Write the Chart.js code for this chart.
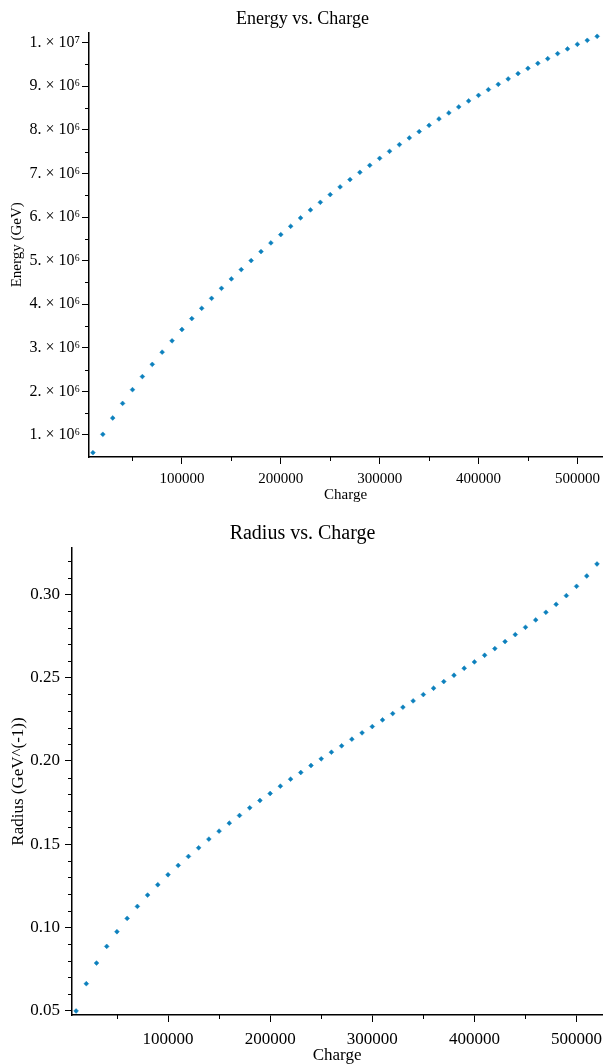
<!DOCTYPE html>
<html>
<head>
<meta charset="utf-8">
<script src="https://cdn.jsdelivr.net/npm/chart.js@4/dist/chart.umd.min.js"></script>
<style>
  html, body { margin: 0; padding: 0; background: #fff; }
  .box { position: absolute; left: 0; width: 605px; }
  #energyBox { top: 0; height: 505px; }
  #radiusBox { top: 510px; height: 554px; }
</style>
</head>
<body>
<div class="box" id="energyBox"><canvas id="energyChart"></canvas></div>
<div class="box" id="radiusBox"><canvas id="radiusChart"></canvas></div>
<script>
const charge = [
  10000, 20000, 30000, 40000, 50000, 60000, 70000, 80000, 90000, 100000,
  110000, 120000, 130000, 140000, 150000, 160000, 170000, 180000, 190000, 200000,
  210000, 220000, 230000, 240000, 250000, 260000, 270000, 280000, 290000, 300000,
  310000, 320000, 330000, 340000, 350000, 360000, 370000, 380000, 390000, 400000,
  410000, 420000, 430000, 440000, 450000, 460000, 470000, 480000, 490000, 500000,
  510000, 520000
];
// GeV
const energy = [
  594000, 1016000, 1390000, 1725000, 2040000, 2340000, 2620000, 2900000, 3160000, 3420000,
  3670000, 3906000, 4135000, 4365000, 4580000, 4794000, 5000000, 5206000, 5406000, 5596000,
  5787000, 5979000, 6163000, 6337000, 6514000, 6690000, 6858000, 7025000, 7186000, 7346000,
  7507000, 7661000, 7814000, 7959000, 8103000, 8250000, 8388000, 8525000, 8663000, 8791000,
  8922000, 9044000, 9167000, 9289000, 9411000, 9525000, 9633000, 9748000, 9856000, 9961000,
  10053000, 10145000
];
// GeV^(-1)
const radius = [
  0.0498, 0.0662, 0.0786, 0.0886, 0.0974, 0.1054, 0.1126, 0.1194, 0.1256, 0.1316,
  0.1372, 0.1426, 0.1478, 0.1530, 0.1578, 0.1626, 0.1672, 0.1718, 0.1762, 0.1804,
  0.1848, 0.1890, 0.1930, 0.1972, 0.2012, 0.2052, 0.2090, 0.2130, 0.2168, 0.2206,
  0.2246, 0.2284, 0.2322, 0.2360, 0.2398, 0.2436, 0.2476, 0.2514, 0.2556, 0.2594,
  0.2634, 0.2674, 0.2716, 0.2758, 0.2802, 0.2846, 0.2892, 0.2940, 0.2992, 0.3048,
  0.3110, 0.3182
];

const chargeTicks = [100000, 200000, 300000, 400000, 500000];
const chargeMinor = [50000, 150000, 250000, 350000, 450000];
const energyTicks = [1e6, 2e6, 3e6, 4e6, 5e6, 6e6, 7e6, 8e6, 9e6, 1e7];
const energyTickLabels = ['1. × 10⁶', '2. × 10⁶', '3. × 10⁶', '4. × 10⁶', '5. × 10⁶',
  '6. × 10⁶', '7. × 10⁶', '8. × 10⁶', '9. × 10⁶', '1. × 10⁷'];
const energyMinor = [1.5e6, 2.5e6, 3.5e6, 4.5e6, 5.5e6, 6.5e6, 7.5e6, 8.5e6, 9.5e6];
const radiusTicks = [0.05, 0.10, 0.15, 0.20, 0.25, 0.30];
const radiusTickLabels = ['0.05', '0.10', '0.15', '0.20', '0.25', '0.30'];
const radiusMinor = [0.06, 0.07, 0.08, 0.09, 0.11, 0.12, 0.13, 0.14, 0.16, 0.17, 0.18, 0.19,
  0.21, 0.22, 0.23, 0.24, 0.26, 0.27, 0.28, 0.29, 0.31, 0.32];

const SERIF = "'Liberation Serif', 'Times New Roman', serif";
const POINT = '#0c80bd';

// short outer ticks between the labelled ones
const minorTicks = {
  id: 'minorTicks',
  afterDraw(chart, args, opts) {
    const { ctx, chartArea: a, scales: { x, y } } = chart;
    ctx.save();
    ctx.strokeStyle = '#000';
    ctx.lineWidth = 1;
    ctx.beginPath();
    (opts.x || []).forEach(v => {
      const px = Math.round(x.getPixelForValue(v)) + 0.5;
      ctx.moveTo(px, a.bottom); ctx.lineTo(px, a.bottom + opts.len);
    });
    (opts.y || []).forEach(v => {
      const py = Math.round(y.getPixelForValue(v)) + 0.5;
      ctx.moveTo(a.left, py); ctx.lineTo(a.left - opts.len, py);
    });
    ctx.stroke();
    ctx.restore();
  }
};

function makeChart(id, s) {
  const ctx = document.getElementById(id).getContext('2d');
  const axis = { color: '#000', width: 1.5 };
  const grid = { drawOnChartArea: false, drawTicks: true, tickLength: 7, color: '#000', lineWidth: 1 };
  return new Chart(ctx, {
    type: 'scatter',
    data: {
      datasets: [{
        data: charge.map((c, i) => ({ x: c, y: s.values[i] })),
        pointStyle: 'rectRot', pointRadius: 2.4, pointHoverRadius: 2.4,
        backgroundColor: POINT, borderColor: POINT, borderWidth: 0.5, clip: false
      }]
    },
    options: {
      responsive: true,
      maintainAspectRatio: false,
      animation: false,
      layout: { padding: 0 },
      plugins: {
        legend: { display: false },
        tooltip: { enabled: false },
        title: {
          display: true, text: s.title, color: '#000',
          font: { family: SERIF, size: s.titleSize, weight: 'normal', lineHeight: 1.2 },
          padding: s.titlePad
        },
        minorTicks: { x: chargeMinor, y: s.minor, len: 4 }
      },
      scales: {
        x: {
          type: 'linear', min: 6000, max: 525000,
          border: axis, grid,
          afterBuildTicks: sc => { sc.ticks = chargeTicks.map(v => ({ value: v })); },
          afterFit: sc => { sc.height = s.xHeight; sc.paddingLeft = 0; sc.paddingRight = 0; },
          ticks: { color: '#000', padding: s.xTickPad, maxRotation: 0, font: { family: SERIF, size: s.tickSize },
            callback: v => String(v) },
          title: { display: true, text: 'Charge', color: '#000', padding: { top: 0, bottom: s.xTitlePad },
            font: { family: SERIF, size: s.axisSize, lineHeight: 1 } }
        },
        y: {
          type: 'linear', min: s.min, max: s.max,
          border: axis, grid,
          afterBuildTicks: sc => { sc.ticks = s.ticks.map(v => ({ value: v })); },
          afterFit: sc => { sc.width = s.yWidth; sc.paddingTop = 0; sc.paddingBottom = 0; },
          ticks: { color: '#000', padding: s.yTickPad, font: { family: SERIF, size: s.yTickSize },
            callback: (v, i) => s.labels[i] },
          title: { display: true, text: s.yTitle, color: '#000', padding: { top: s.yTitlePad, bottom: 0 },
            font: { family: SERIF, size: s.axisSize, lineHeight: 1 } }
        }
      }
    },
    plugins: [minorTicks]
  });
}

makeChart('energyChart', {
  values: energy, title: 'Energy vs. Charge', yTitle: 'Energy (GeV)',
  min: 495000, max: 10230000, ticks: energyTicks, labels: energyTickLabels, minor: energyMinor,
  titleSize: 18, tickSize: 15, yTickSize: 16, axisSize: 15, titlePad: { top: 8, bottom: 3 },
  xHeight: 48, xTickPad: 6, xTitlePad: 2, yWidth: 89, yTickPad: 2, yTitlePad: 10
});

makeChart('radiusChart', {
  values: radius, title: 'Radius vs. Charge', yTitle: 'Radius (GeV^(-1))',
  min: 0.0474, max: 0.3278, ticks: radiusTicks, labels: radiusTickLabels, minor: radiusMinor,
  titleSize: 20, tickSize: 17, yTickSize: 17, axisSize: 17, titlePad: { top: 12, bottom: 2 },
  xHeight: 49, xTickPad: 7, xTitlePad: 0, yWidth: 72, yTickPad: 5, yTitlePad: 10
});
</script>
</body>
</html>
